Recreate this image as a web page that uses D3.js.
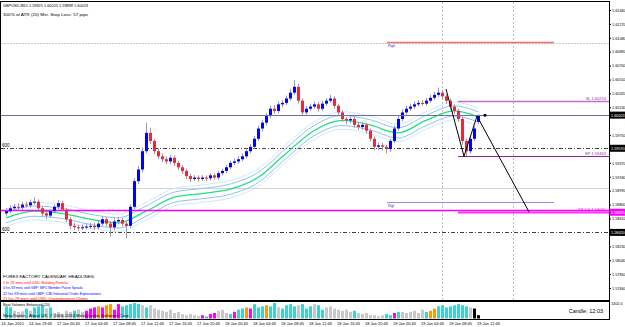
<!DOCTYPE html>
<html>
<head>
<meta charset="utf-8">
<script src="https://cdn.jsdelivr.net/npm/d3@7"></script>
<style>
  body { margin: 0; background: #fff; }
  text { font-family: "Liberation Sans", Arial, sans-serif; }
</style>
</head>
<body>
<script>
// GBPUSD M15 candles (one candle = 4px column)
const opens = [1.5868,1.5871,1.5875,1.5877,1.5876,1.5880,1.5879,1.5883,1.5884,1.5875,1.5868,1.5865,1.5871,1.5877,1.5882,1.5873,1.5860,1.5851,1.5849,1.5848,1.5849,1.5850,1.5851,1.5849,1.5854,1.5860,1.5854,1.5849,1.5857,1.5859,1.5854,1.5851,1.5877,1.5912,1.5928,1.5953,1.5978,1.5967,1.5953,1.5946,1.5942,1.5939,1.5944,1.5937,1.5931,1.5926,1.5919,1.5915,1.5917,1.5915,1.5917,1.5916,1.5920,1.5917,1.5923,1.5926,1.5931,1.5937,1.5939,1.5942,1.5946,1.5953,1.5959,1.5970,1.5984,1.5992,1.6001,1.6011,1.6008,1.6017,1.6019,1.6025,1.6033,1.6041,1.6022,1.6006,1.6011,1.6014,1.6017,1.6011,1.6018,1.6022,1.6025,1.6015,1.6006,1.5997,1.5995,1.5997,1.5989,1.5986,1.5989,1.5981,1.5970,1.5959,1.5961,1.5959,1.5956,1.5967,1.5984,1.5997,1.6006,1.6011,1.6014,1.6017,1.6019,1.6018,1.6022,1.6026,1.6030,1.6033,1.6028,1.6022,1.6014,1.6008,1.5997,1.5967,1.5953,1.5970,1.5993];
const highs = [1.5875,1.5879,1.5881,1.5882,1.5884,1.5884,1.5887,1.5890,1.5887,1.5878,1.5871,1.5874,1.5880,1.5886,1.5885,1.5876,1.5863,1.5855,1.5853,1.5853,1.5854,1.5855,1.5855,1.5858,1.5864,1.5863,1.5858,1.5861,1.5863,1.5862,1.5857,1.5880,1.5916,1.5933,1.5958,1.5992,1.5985,1.5970,1.5957,1.5950,1.5946,1.5948,1.5947,1.5940,1.5934,1.5929,1.5922,1.5920,1.5920,1.5920,1.5920,1.5923,1.5923,1.5926,1.5929,1.5934,1.5940,1.5943,1.5946,1.5950,1.5957,1.5963,1.5974,1.5988,1.5996,1.6005,1.6015,1.6016,1.6021,1.6023,1.6029,1.6038,1.6050,1.6045,1.6025,1.6015,1.6018,1.6021,1.6020,1.6022,1.6026,1.6030,1.6028,1.6018,1.6009,1.6000,1.6001,1.6000,1.5992,1.5993,1.5992,1.5984,1.5973,1.5965,1.5964,1.5962,1.5970,1.5988,1.6001,1.6010,1.6015,1.6018,1.6021,1.6023,1.6023,1.6026,1.6030,1.6034,1.6040,1.6037,1.6031,1.6025,1.6017,1.6011,1.6000,1.5970,1.5973,1.5987,1.6003];
const lows = [1.5864,1.5868,1.5872,1.5873,1.5873,1.5876,1.5876,1.5880,1.5872,1.5864,1.5860,1.5862,1.5868,1.5874,1.5870,1.5856,1.5846,1.5845,1.5844,1.5845,1.5846,1.5847,1.5845,1.5846,1.5851,1.5850,1.5836,1.5845,1.5853,1.5850,1.5834,1.5848,1.5874,1.5908,1.5924,1.5950,1.5963,1.5949,1.5942,1.5938,1.5935,1.5935,1.5933,1.5927,1.5922,1.5915,1.5911,1.5912,1.5911,1.5912,1.5912,1.5913,1.5914,1.5914,1.5920,1.5923,1.5928,1.5934,1.5936,1.5939,1.5943,1.5950,1.5956,1.5967,1.5980,1.5988,1.5998,1.6004,1.6005,1.6013,1.6016,1.6022,1.6030,1.6018,1.6002,1.6003,1.6008,1.6011,1.6007,1.6008,1.6015,1.6019,1.6011,1.6002,1.5993,1.5990,1.5991,1.5985,1.5982,1.5982,1.5977,1.5966,1.5954,1.5955,1.5954,1.5950,1.5952,1.5964,1.5981,1.5994,1.6003,1.6008,1.6011,1.6014,1.6015,1.6015,1.6019,1.6023,1.6027,1.6024,1.6018,1.6010,1.6004,1.5993,1.5962,1.5946,1.5950,1.5967,1.5990];
const closes = [1.5871,1.5875,1.5877,1.5876,1.5880,1.5879,1.5883,1.5884,1.5875,1.5868,1.5865,1.5871,1.5877,1.5882,1.5873,1.5860,1.5851,1.5849,1.5848,1.5849,1.5850,1.5851,1.5849,1.5854,1.5860,1.5854,1.5849,1.5857,1.5859,1.5854,1.5851,1.5877,1.5912,1.5928,1.5953,1.5978,1.5967,1.5953,1.5946,1.5942,1.5939,1.5944,1.5937,1.5931,1.5926,1.5919,1.5915,1.5917,1.5915,1.5917,1.5916,1.5920,1.5917,1.5923,1.5926,1.5931,1.5937,1.5939,1.5942,1.5946,1.5953,1.5959,1.5970,1.5984,1.5992,1.6001,1.6011,1.6008,1.6017,1.6019,1.6025,1.6033,1.6041,1.6022,1.6006,1.6011,1.6014,1.6017,1.6011,1.6018,1.6022,1.6025,1.6015,1.6006,1.5997,1.5995,1.5997,1.5989,1.5986,1.5989,1.5981,1.5970,1.5959,1.5961,1.5959,1.5956,1.5967,1.5984,1.5997,1.6006,1.6011,1.6014,1.6017,1.6019,1.6018,1.6022,1.6026,1.6030,1.6033,1.6028,1.6022,1.6014,1.6008,1.5997,1.5967,1.5953,1.5970,1.5984,1.6002];

// volume subwindow
const volumes = [1100,1000,700,600,650,900,700,1000,1100,1200,900,1000,500,600,400,700,600,700,800,600,700,900,1000,1100,1000,1200,1300,800,1300,1100,1200,1300,1400,1300,1200,1000,1200,900,800,700,600,800,500,600,400,300,400,300,200,300,200,400,500,700,800,500,400,600,800,900,1000,900,1300,1000,1100,1200,1100,1400,1000,900,1200,1300,1100,1200,1300,900,1100,1300,1200,800,1000,1100,900,800,700,800,600,700,500,400,500,300,300,200,300,400,300,500,600,600,500,600,700,500,800,600,700,900,1100,1200,1000,1100,1200,1300,1200,1100,1000,900,300];
const volumeKinds = "ccgggcgcccgcgggggcggmmmomoommcccccgcgggggggggggggmcmmgggcmccomcccoccgccccgcccgccgggggggcgggggggccmcggggggcooccccccccg";

// moving average channel, sampled every 7 candles
const maIdx = [0,7,14,21,28,35,42,49,56,63,70,77,84,91,98,105,112,118];
const maMid = [1.5862,1.5871,1.5868,1.5860,1.5855,1.5871,1.5890,1.5895,1.5901,1.5917,1.5950,1.5981,1.5995,1.5989,1.5978,1.5995,1.6008,1.6000];
const bandInner = 0.0007;
const bandOuter = 0.0012;

const priceTicks = [1.61460,1.61270,1.61080,1.60890,1.60700,1.60510,1.60320,1.60130,1.59750,1.59370,1.59180,1.58990,1.58800,1.58610,1.58230,1.58040,1.57850,1.57660];
const timeLabels = ["14 Jan 2011","14 Jan 19:45","17 Jan 00:45","17 Jan 04:45","17 Jan 08:45","17 Jan 12:45","17 Jan 16:45","17 Jan 20:45","18 Jan 00:45","18 Jan 04:45","18 Jan 08:45","18 Jan 12:45","18 Jan 16:45","18 Jan 20:45","19 Jan 00:45","19 Jan 04:45","19 Jan 08:45","19 Jan 12:45"];

const headlines = ["FOREX FACTORY CALENDAR: HEADLINES:", "1 hr 29 mins until USD: Building Permits", "4 hrs 59 mins until GBP: MPC Member Posen Speaks", "22 hrs 59 mins until GBP: CBI Industrial Order Expectations", "21 hrs 29 mins until USD: Unemployment Claims"];
const headlineColors = ["#000000", "#ff0000", "#0000ff", "#0000ff", "#ff0000"];
const headlineWidths = [92, 65, 80, 98, 85];

const W = 625, H = 327;
const plot = {left: 1, right: 609, top: 2, bottom: 300};
const vol = {top: 301, bottom: 319};

const svg = d3.select("body").append("svg")
  .attr("width", W).attr("height", H);

const x = d3.scaleLinear().domain([0, 1]).range([6, 10]);
const y = d3.scaleLinear().domain([1.6146, 1.5766]).range([10, 288]);
const yv = d3.scaleLinear().domain([0, 1402]).range([vol.bottom - 0.5, vol.top + 2]);

svg.append("defs").append("clipPath").attr("id", "clipMain")
  .append("rect").attr("x", plot.left).attr("y", plot.top)
  .attr("width", plot.right - plot.left).attr("height", plot.bottom - plot.top);

const g = svg.append("g").attr("clip-path", "url(#clipMain)");

const hline = (p, x1, x2, col, w, dash) => {
  const yy = Math.round(y(p)) + 0.5;
  const l = g.append("line").attr("x1", x1).attr("x2", x2)
    .attr("y1", yy).attr("y2", yy)
    .attr("stroke", col).attr("stroke-width", w);
  if (dash) l.attr("stroke-dasharray", dash);
  return l;
};

// horizontal reference lines
hline(1.6101, plot.left, plot.right, "#c8c8c8", 1, "2,1");
hline(1.5903, plot.left, plot.right, "#d4d4d4", 1);
[1.5957, 1.5842].forEach(p => hline(p, plot.left, plot.right, "#404040", 1, "4,2,1,2"));

// vertical dotted lines
[109, 126.75].forEach(i => {
  g.append("line").attr("x1", Math.round(x(i)) + 0.5).attr("x2", Math.round(x(i)) + 0.5)
    .attr("y1", plot.top).attr("y2", plot.bottom)
    .attr("stroke", "#c0c0c0").attr("stroke-dasharray", "2,2");
});

// MA channel
const maLine = (off) => d3.line()
  .x((d, k) => x(maIdx[k]))
  .y(d => y(d + off))
  .curve(d3.curveMonotoneX);
[[bandOuter, "#d2e8fb"], [-bandOuter, "#d2e8fb"], [bandInner, "#8cc4f4"], [-bandInner, "#8cc4f4"], [0, "#20e080"]].forEach(([off, col]) => {
  g.append("path").datum(maMid).attr("d", maLine(off))
    .attr("fill", "none").attr("stroke", col).attr("stroke-width", off === 0 ? 1.3 : 1);
});

// magenta level
hline(1.5872, plot.left, plot.right, "#ff00ff", 1.5);

// candles
const idx = d3.range(closes.length);
g.selectAll(".wick").data(idx).join("line")
  .attr("x1", i => Math.round(x(i)) + 0.5).attr("x2", i => Math.round(x(i)) + 0.5)
  .attr("y1", i => y(highs[i])).attr("y2", i => y(lows[i]))
  .attr("stroke", "#9a9aa8").attr("stroke-width", 1);
g.selectAll(".body").data(idx).join("rect")
  .attr("x", i => Math.round(x(i)) - 1)
  .attr("width", 3)
  .attr("y", i => y(Math.max(opens[i], closes[i])))
  .attr("height", i => Math.max(1, Math.abs(y(opens[i]) - y(closes[i]))))
  .attr("fill", i => closes[i] >= opens[i] ? "#0000ff" : "#e8283c");

// bid line and dot
hline(1.6002, plot.left, plot.right, "#7070a8", 1);
g.append("circle").attr("cx", x(119.75)).attr("cy", y(1.6002)).attr("r", 1.5).attr("fill", "#000");

// trade levels
const levels = [
  {p: 1.6102, from: 95.25, to: 137, col: "#f07070", w: 1.5},
  {p: 1.5884, from: 95.25, to: 137, col: "#9090f0", w: 1.2},
  {p: 1.60216, from: 113, to: 160, col: "#c070c8", w: 1.5},
  {p: 1.59462, from: 113, to: 160, col: "#9020a0", w: 1.2},
  {p: 1.58695, from: 113, to: 160, col: "#ff30ff", w: 2}
];
levels.forEach(l => hline(l.p, x(l.from), x(l.to), l.col, l.w));
g.append("text").attr("x", x(95.25) + 1).attr("y", y(1.6102) + 5)
  .attr("font-size", 4).attr("fill", "#4040c0").text("Rgh");
g.append("text").attr("x", x(95.25) + 1).attr("y", y(1.5884) + 5)
  .attr("font-size", 4).attr("fill", "#4040c0").text("Rgl");
[["SL  1.60216", 1.60216, "#9030a0"], ["EP  1.59462", 1.59462, "#9030a0"], ["TP 1@   1.58695", 1.58695, "#ff00ff"]].forEach(([t, p, c]) => {
  g.append("text").attr("x", 606).attr("y", y(p) - 1.5).attr("text-anchor", "end")
    .attr("font-size", 4).attr("fill", c).text(t);
});
[1.5957, 1.5842].forEach(p => {
  g.append("text").attr("x", 2).attr("y", y(p) - 1.5).attr("font-size", 4.5).attr("fill", "#000").text("600");
});

// trend lines
const trendIdx = [110, 114.5, 117.75, 130.75];
const trendPrice = [1.6038, 1.5946, 1.6001, 1.5870];
g.append("path").datum(trendIdx)
  .attr("d", d3.line().x(d => x(d)).y((d, k) => y(trendPrice[k])))
  .attr("fill", "none").attr("stroke", "#000").attr("stroke-width", 1);

// header
svg.append("text").attr("x", 3).attr("y", 7).attr("font-size", 4.3)
  .attr("textLength", 85).attr("lengthAdjust", "spacingAndGlyphs")
  .text("GBPUSD,M15  1.59925 1.60025 1.59899 1.60023");
svg.append("text").attr("x", 3).attr("y", 16).attr("font-size", 4.3)
  .attr("textLength", 85).attr("lengthAdjust", "spacingAndGlyphs")
  .text("300% of ATR (20)     Min. Stop Loss:  57 pips");

// headlines
headlines.forEach((t, k) => {
  svg.append("text").attr("x", 3).attr("y", 278 + k * 5.6).attr("font-size", 4.4)
    .attr("textLength", headlineWidths[k]).attr("lengthAdjust", "spacingAndGlyphs")
    .attr("fill", headlineColors[k]).text(t);
});

// frames
svg.append("rect").attr("x", plot.left - 0.5).attr("y", plot.top - 0.5)
  .attr("width", plot.right - plot.left + 1).attr("height", plot.bottom - plot.top + 1)
  .attr("fill", "none").attr("stroke", "#000").attr("stroke-width", 1);
svg.append("rect").attr("x", plot.left - 0.5).attr("y", vol.top + 0.5)
  .attr("width", plot.right - plot.left + 1).attr("height", vol.bottom - vol.top)
  .attr("fill", "none").attr("stroke", "#000").attr("stroke-width", 1);

// price axis
const yAxis = svg.append("g").attr("transform", `translate(${plot.right + 0.5},0)`)
  .call(d3.axisRight(y).tickValues(priceTicks).tickSize(1.5).tickFormat(d3.format(".5f")));
yAxis.select(".domain").remove();
yAxis.selectAll("text").attr("font-size", 3.8).attr("x", 2.5).attr("fill", "#000");

// price boxes
[[1.60023, "#000"], [1.5957, "#000"], [1.58695, "#ff00ff"], [1.5842, "#000"]].forEach(([p, c]) => {
  svg.append("rect").attr("x", plot.right + 0.5).attr("y", y(p) - 3.5).attr("width", 16).attr("height", 7).attr("fill", c);
  svg.append("text").attr("x", plot.right + 2).attr("y", y(p) + 1.6).attr("font-size", 3.8).attr("fill", "#fff").text(p.toFixed(5));
});

// volumes
const volColor = {g: "#c8c8c8", c: "#3cd2d2", m: "#ff00ff", o: "#ff9a00"};
svg.selectAll(".vol").data(idx).join("rect")
  .attr("x", i => Math.round(x(i)) - 1).attr("width", 3)
  .attr("y", i => yv(volumes[i])).attr("height", i => yv(0) - yv(volumes[i]))
  .attr("fill", i => volColor[volumeKinds[i]]);
svg.append("text").attr("x", 3).attr("y", 306).attr("font-size", 4.4)
  .attr("textLength", 47).attr("lengthAdjust", "spacingAndGlyphs").text("Bear Volumes Enhanced (20)");
svg.append("text").attr("x", 3).attr("y", 316.5).attr("font-size", 4.4)
  .attr("textLength", 127).attr("lengthAdjust", "spacingAndGlyphs")
  .text("MetaTrader - Alpari UK, \u00a9 2001-2010 MetaQuotes Software Corp.");
svg.append("text").attr("x", 603).attr("y", 313).attr("text-anchor", "end").attr("font-size", 5.5).text("Candle: 12:03");
svg.append("text").attr("x", 611).attr("y", 305).attr("font-size", 3.8).text("1402.0");

// time axis
timeLabels.forEach((t, k) => {
  const xx = Math.round(x(k * 7)) - 5;
  svg.append("text").attr("x", xx).attr("y", 325).attr("font-size", 4.4)
    .attr("textLength", 23).attr("lengthAdjust", "spacingAndGlyphs").text(t);
});
</script>
</body>
</html>
